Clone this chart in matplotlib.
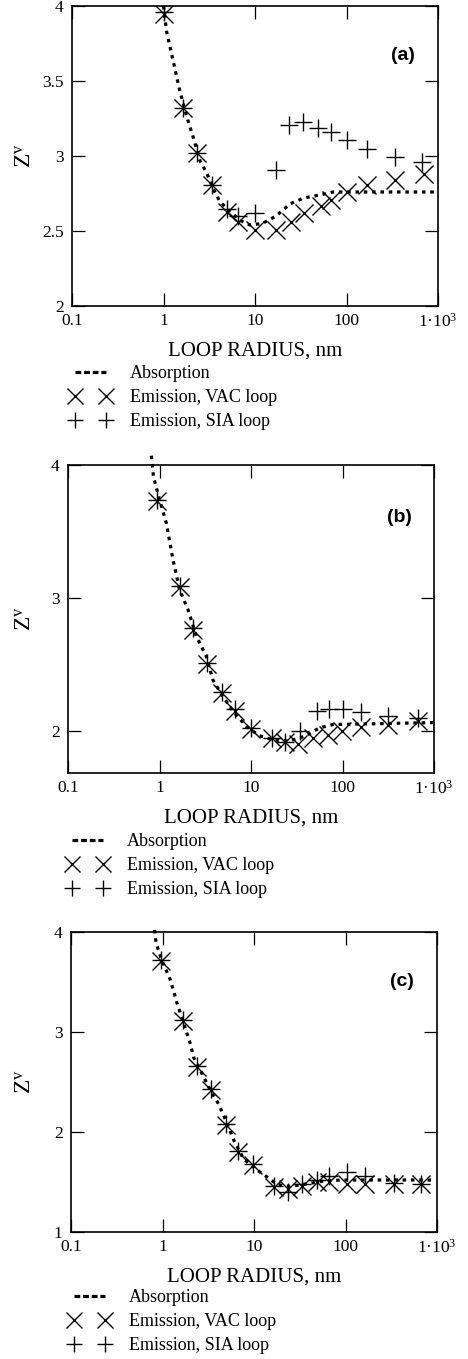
import matplotlib
matplotlib.use("Agg")
import matplotlib.pyplot as plt
from matplotlib.lines import Line2D
from matplotlib.ticker import FixedLocator, NullLocator, FixedFormatter

plt.rcParams['font.family'] = ['Liberation Serif', 'DejaVu Serif']
plt.rcParams['mathtext.fontset'] = 'custom'
plt.rcParams['mathtext.rm'] = 'Liberation Serif'
plt.rcParams['mathtext.it'] = 'Liberation Serif:italic'

# ---------------- data ----------------
xticks = [0.1, 1, 10, 100, 1000]
xticklabels = ['0.1', '1', '10', '100', '1·10$^{3}$']
legend_labels = ['Absorption', 'Emission, VAC loop', 'Emission, SIA loop']
panel_labels = ['(a)', '(b)', '(c)']

# panel (a)
abs_a_x = [1.0, 1.08, 1.28, 1.5, 1.8, 2.1, 2.5, 3.0, 3.5, 4.1, 4.9, 6.9, 8.8, 12, 17, 24, 34, 51, 72, 166, 1000]
abs_a_y = [4.0, 3.83, 3.63, 3.44, 3.26, 3.13, 2.97, 2.88, 2.78, 2.70, 2.65, 2.57, 2.54, 2.55, 2.60, 2.68, 2.72, 2.74, 2.76, 2.76, 2.76]
vac_a_x = [1.0, 1.63, 2.34, 3.42, 4.9, 6.6, 10, 17, 24.7, 34, 53, 68, 100, 166, 339, 703]
vac_a_y = [3.95, 3.32, 3.02, 2.81, 2.63, 2.56, 2.51, 2.51, 2.56, 2.62, 2.67, 2.71, 2.76, 2.81, 2.84, 2.88]
sia_a_x = [1.0, 1.63, 2.34, 3.42, 4.9, 6.6, 10, 17, 23.3, 33.2, 49.2, 68, 100, 166, 339, 665]
sia_a_y = [3.96, 3.32, 3.02, 2.81, 2.645, 2.60, 2.62, 2.91, 3.21, 3.23, 3.19, 3.16, 3.11, 3.05, 2.99, 2.96]

# panel (b)
abs_b_x = [0.815, 0.86, 1.0, 1.19, 1.40, 1.66, 2.05, 2.53, 3.24, 3.84, 4.9, 6.3, 8.9, 12.4, 17.3, 26, 40, 56, 79, 183, 1050]
abs_b_y = [4.07, 3.91, 3.74, 3.56, 3.29, 3.06, 2.91, 2.71, 2.56, 2.38, 2.26, 2.15, 2.03, 1.96, 1.93, 1.92, 1.96, 2.02, 2.045, 2.05, 2.06]
vac_b_x = [0.95, 1.66, 2.32, 3.30, 4.86, 6.63, 10, 17.1, 23.3, 32.7, 47.6, 69.5, 99, 161, 314, 668]
vac_b_y = [3.73, 3.08, 2.76, 2.50, 2.28, 2.15, 2.01, 1.94, 1.91, 1.895, 1.945, 1.97, 1.995, 2.03, 2.045, 2.07]
sia_b_x = [0.95, 1.66, 2.32, 3.30, 4.86, 6.63, 10, 17.1, 23.3, 34, 52.6, 72, 100, 161, 314, 668]
sia_b_y = [3.74, 3.09, 2.77, 2.51, 2.29, 2.16, 2.02, 1.94, 1.91, 1.995, 2.145, 2.16, 2.16, 2.14, 2.11, 2.095]

# panel (c)
abs_c_x = [0.82, 0.85, 0.99, 1.22, 1.44, 1.70, 2.0, 2.2, 2.58, 3.33, 4.1, 4.9, 6.0, 7.7, 10.8, 13.9, 17.9, 24.9, 37, 62, 110, 950]
abs_c_y = [4.02, 3.89, 3.71, 3.52, 3.29, 3.09, 2.89, 2.74, 2.62, 2.42, 2.28, 2.12, 1.92, 1.73, 1.62, 1.55, 1.475, 1.455, 1.48, 1.515, 1.52, 1.52]
vac_c_x = [0.97, 1.67, 2.38, 3.42, 4.99, 6.63, 9.75, 16.4, 23.3, 33.5, 48.8, 65.5, 104, 165, 336, 668]
vac_c_y = [3.71, 3.11, 2.65, 2.42, 2.07, 1.80, 1.67, 1.455, 1.43, 1.465, 1.50, 1.50, 1.48, 1.48, 1.48, 1.48]
sia_c_x = [0.97, 1.67, 2.38, 3.42, 4.99, 6.63, 9.75, 16.4, 23.3, 33.5, 48.8, 65.5, 104, 165, 336, 668]
sia_c_y = [3.72, 3.12, 2.66, 2.43, 2.08, 1.81, 1.68, 1.46, 1.40, 1.48, 1.52, 1.565, 1.60, 1.565, 1.49, 1.48]

yticks_a = [2, 2.5, 3, 3.5, 4]
yticks_b = [2, 3, 4]
yticks_c = [1, 2, 3, 4]
ylims = [(2, 4), (1.68, 4), (1, 4)]

# ---------------- layout (pixels) ----------------
W, H = 468, 1359
fig = plt.figure(figsize=(W / 100, H / 100), dpi=100)

# (left, right, top, bottom) of the axes frames in pixels
frames = [(72, 438, 6, 306), (68, 434, 465, 773), (71, 437, 932, 1232)]
# legend anchor (left, top) in pixels
legend_pos = [(70, 365), (67, 833), (69, 1289)]

panels = [
    (abs_a_x, abs_a_y, vac_a_x, vac_a_y, sia_a_x, sia_a_y, yticks_a),
    (abs_b_x, abs_b_y, vac_b_x, vac_b_y, sia_b_x, sia_b_y, yticks_b),
    (abs_c_x, abs_c_y, vac_c_x, vac_c_y, sia_c_x, sia_c_y, yticks_c),
]

dot_style = dict(color='black', lw=2.3, dashes=(1.1, 1.5))
ms = 13

for i, (ax_x, ax_y, vx, vy, sx, sy, yt) in enumerate(panels):
    l, r, t, b = frames[i]
    ax = fig.add_axes([l / W, 1 - b / H, (r - l) / W, (b - t) / H])
    ax.set_xscale('log')
    ax.set_xlim(0.1, 1000)
    ax.set_ylim(*ylims[i])

    ax.plot(ax_x, ax_y, linestyle='-', clip_on=False, zorder=2, **dot_style)
    ax.plot(vx, vy, linestyle='none', marker='x', ms=ms, mew=1.0, color='black', zorder=3)
    ax.plot(sx, sy, linestyle='none', marker='+', ms=ms, mew=1.0, color='black', zorder=3)

    ax.xaxis.set_major_locator(FixedLocator(xticks))
    ax.xaxis.set_major_formatter(FixedFormatter(xticklabels))
    ax.xaxis.set_minor_locator(NullLocator())
    ax.yaxis.set_major_locator(FixedLocator(yt))
    ax.set_yticklabels([('%g' % v) for v in yt])
    ax.tick_params(direction='in', length=9.5, width=0.9, top=True, right=True,
                   labelsize=12.5, color='black')
    ax.tick_params(axis='x', pad=5)
    ax.tick_params(axis='y', pad=6)
    for sp in ax.spines.values():
        sp.set_linewidth(1.2)

    ax.set_xlabel('LOOP RADIUS, nm', fontsize=15)
    ax.xaxis.set_label_coords(0.5, -(45 / (b - t)))
    ax.xaxis.label.set_va('center')
    ax.set_ylabel('Z$^{\\rm v}$', fontsize=17)
    ax.yaxis.set_label_coords((25 - l) / (r - l), 0.5)
    ax.yaxis.label.set_va('center')

    ax.text(0.905, 0.835 if i != 1 else 0.83, panel_labels[i], transform=ax.transAxes,
            fontsize=14, fontweight='bold', family='Liberation Sans',
            ha='center', va='center')

    handles = [
        Line2D([], [], color='black', lw=2.3, dashes=(1.8, 0.9)),
        Line2D([], [], linestyle='none', marker='x', ms=11, mew=1.0, color='black'),
        Line2D([], [], linestyle='none', marker='+', ms=11, mew=1.0, color='black'),
    ]
    lx, ly = legend_pos[i]
    ax.legend(handles, legend_labels, loc='upper left',
              bbox_to_anchor=(lx / W, 1 - ly / H), bbox_transform=fig.transFigure,
              frameon=False, borderpad=0, borderaxespad=0, numpoints=2,
              handlelength=2.3, handletextpad=1.0, labelspacing=0.4, fontsize=13)

fig.savefig('out.png', dpi=100)
